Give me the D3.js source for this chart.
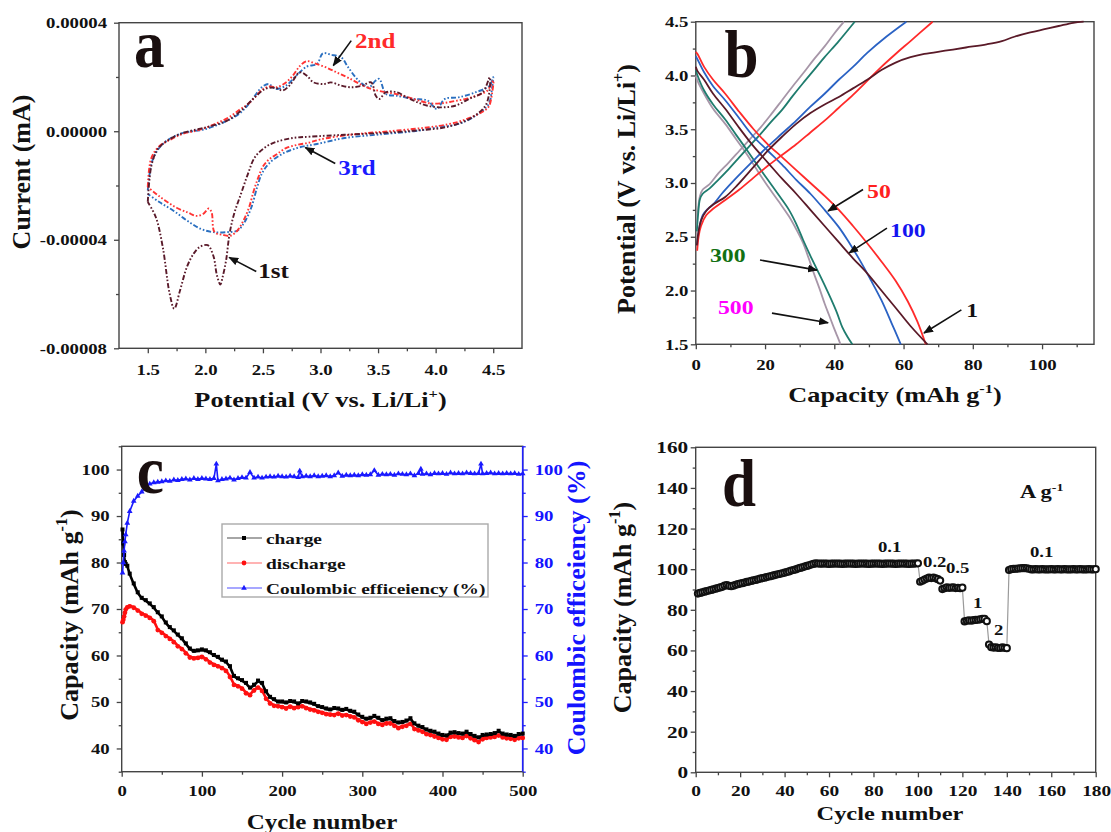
<!DOCTYPE html>
<html>
<head>
<meta charset="utf-8">
<script src="https://cdn.jsdelivr.net/npm/d3@7/dist/d3.min.js"></script>
<style>
  body { margin: 0; background: #fff; }
  svg { display: block; }
  text { font-family: "Liberation Serif", "Times New Roman", serif; font-weight: bold; }
</style>
</head>
<body>
<svg id="fig" width="1111" height="832"></svg>
<script>
// ---- panel a: cyclic voltammetry, [potential V, current in 1e-5 mA] ----
const cvFirst = [[1.5,-2.6],[1.53,-1.3],[1.58,-0.7],[1.63,-0.47],[1.78,-0.1],[2.01,0.15],[2.19,0.39],[2.31,0.76],
  [2.43,1.25],[2.52,1.56],[2.61,1.6],[2.67,1.5],[2.73,1.68],[2.82,2.17],[2.88,2.05],[2.94,1.8],[3.03,1.74],[3.09,1.8],
  [3.18,1.68],[3.27,1.62],[3.36,1.68],[3.44,1.8],[3.48,1.31],[3.51,1.19],[3.57,1.44],[3.66,1.44],[3.75,1.25],[3.84,1.07],
  [3.93,0.94],[4.05,0.88],[4.17,0.94],[4.29,1.19],[4.41,1.44],[4.47,1.99],
  [4.44,1.0],[4.32,0.52],[4.11,0.17],[3.81,0.02],[3.51,-0.07],[3.21,-0.13],[2.91,-0.2],[2.76,-0.25],[2.61,-0.4],
  [2.52,-0.59],[2.43,-0.96],[2.37,-1.57],[2.31,-2.3],[2.25,-3.04],[2.21,-3.78],[2.18,-4.76],[2.15,-5.37],[2.13,-5.65],
  [2.1,-5.3],[2.07,-4.6],[2.02,-4.2],[1.95,-4.27],[1.9,-4.5],[1.84,-5.0],[1.78,-5.87],[1.73,-6.54],[1.69,-5.99],
  [1.63,-4.27],[1.57,-3.17],[1.5,-2.61]];
const cvSecond = [[1.5,-2.06],[1.53,-1.0],[1.6,-0.55],[1.7,-0.3],[1.8,-0.1],[1.9,0.0],[2.0,0.12],[2.1,0.3],[2.2,0.5],
  [2.3,0.8],[2.37,1.0],[2.43,1.25],[2.5,1.55],[2.56,1.65],[2.62,1.62],[2.7,1.8],[2.76,2.05],[2.82,2.4],[2.88,2.58],
  [2.95,2.5],[3.05,2.35],[3.15,2.15],[3.25,1.95],[3.36,1.7],[3.45,1.55],[3.55,1.45],[3.66,1.37],[3.8,1.2],[3.95,1.03],
  [4.05,1.03],[4.15,1.1],[4.27,1.2],[4.38,1.35],[4.45,1.5],[4.5,1.87],
  [4.49,1.4],[4.46,0.9],[4.4,0.7],[4.3,0.5],[4.2,0.35],[4.1,0.25],[3.95,0.15],[3.8,0.08],[3.6,0.0],[3.4,-0.07],
  [3.2,-0.16],[3.0,-0.3],[2.9,-0.42],[2.8,-0.5],[2.7,-0.62],[2.62,-0.85],[2.55,-1.05],[2.5,-1.3],[2.46,-1.7],
  [2.42,-2.2],[2.38,-2.8],[2.33,-3.3],[2.28,-3.65],[2.22,-3.85],[2.15,-3.82],[2.08,-3.72],[2.055,-3.0],[2.03,-2.85],
  [1.98,-3.05],[1.92,-3.12],[1.85,-3.0],[1.75,-2.82],[1.65,-2.55],[1.57,-2.3],[1.5,-2.06]];
const cvThird = [[1.5,-2.18],[1.54,-1.08],[1.63,-0.47],[1.78,-0.1],[2.01,0.09],[2.19,0.39],[2.31,0.7],[2.4,1.13],
  [2.49,1.62],[2.55,1.74],[2.61,1.56],[2.7,1.68],[2.79,2.05],[2.88,2.38],[2.97,2.48],[3.02,2.87],[3.09,2.82],[3.18,2.72],
  [3.24,2.36],[3.33,1.87],[3.42,1.62],[3.48,1.87],[3.51,1.93],[3.57,1.37],[3.66,1.31],[3.81,1.19],[3.93,1.13],[4.01,0.82],
  [4.08,1.19],[4.2,1.25],[4.35,1.44],[4.47,1.68],[4.5,1.99],
  [4.49,1.6],[4.46,1.0],[4.35,0.58],[4.2,0.27],[3.99,0.12],[3.81,0.0],[3.51,-0.12],[3.21,-0.25],[2.97,-0.47],[2.82,-0.59],
  [2.67,-0.83],[2.55,-1.2],[2.49,-1.57],[2.45,-2.06],[2.4,-2.8],[2.34,-3.35],[2.28,-3.66],[2.19,-3.72],[2.07,-3.72],
  [1.96,-3.6],[1.84,-3.29],[1.72,-2.92],[1.6,-2.61],[1.5,-2.31]];
const cvXTicks = [1.5, 2.0, 2.5, 3.0, 3.5, 4.0, 4.5];
const cvXMinor = [1.75, 2.25, 2.75, 3.25, 3.75, 4.25];
const cvYTicks = [-8, -4, 0, 4];
const cvYMinor = [-6, -2, 2];

// ---- panel b: charge / discharge profiles, [capacity mAh/g, potential V] ----
const gcCharge1 = [[0.3,2.42],[0.8,2.55],[1.5,2.65],[3,2.74],[5,2.8],[8.5,2.87],[12,2.98],[16.7,3.15],[20.8,3.3],
  [24.9,3.43],[29,3.55],[33.1,3.65],[37.2,3.73],[41.3,3.8],[45.4,3.88],[49.5,3.96],[53.6,4.05],[57.7,4.12],[62,4.17],
  [66,4.2],[72,4.23],[78,4.26],[84,4.29],[88.4,4.32],[92,4.36],[96.6,4.4],[100.7,4.43],[104.8,4.46],[109,4.49],[112,4.5]];
const gcDischarge1 = [[0,4.08],[0.5,4.04],[2.4,3.96],[5,3.83],[8.5,3.69],[12.6,3.51],[16.7,3.34],[20.8,3.19],[24.9,3.04],
  [29,2.9],[33.1,2.75],[37.2,2.6],[41.3,2.45],[45.4,2.3],[49.5,2.16],[53.6,2.0],[57.7,1.84],[62,1.67],[66.9,1.5]];
const gcCharge50 = [[0.4,2.37],[0.8,2.5],[1.5,2.6],[3,2.7],[5,2.76],[8,2.83],[12.6,2.94],[16.7,3.05],[20.8,3.16],
  [24.9,3.26],[29,3.36],[33.1,3.47],[37.2,3.58],[41.3,3.7],[45.4,3.82],[49.5,3.95],[53.6,4.08],[57.7,4.2],[62,4.32],[68.4,4.5]];
const gcDischarge50 = [[0,4.22],[0.5,4.2],[2.4,4.08],[5,3.96],[8.5,3.83],[12.6,3.66],[16.7,3.5],[20.8,3.36],[24.9,3.24],
  [29,3.12],[33.1,3.0],[37.2,2.88],[41.3,2.75],[45.4,2.6],[49.5,2.44],[53.6,2.27],[57.7,2.09],[61.2,1.9],[64,1.71],[66.4,1.5]];
const gcCharge100 = [[0.4,2.42],[1,2.58],[2,2.7],[3.5,2.76],[5,2.8],[7.5,2.9],[10.6,3.01],[13.6,3.11],[16.7,3.21],
  [20.8,3.34],[24.9,3.46],[29,3.58],[33.1,3.71],[37.2,3.83],[41.3,3.96],[45.4,4.08],[49.5,4.21],[55,4.36],[60.8,4.5]];
const gcDischarge100 = [[0,4.18],[0.5,4.15],[2.4,4.03],[5,3.9],[8.5,3.77],[12.6,3.6],[16.7,3.43],[20.8,3.3],[24.9,3.17],
  [29,3.03],[33.1,2.9],[37.2,2.75],[41.3,2.59],[44.4,2.44],[47.4,2.28],[50.5,2.1],[53.6,1.91],[56.5,1.7],[59.2,1.5]];
const gcCharge300 = [[0.3,2.55],[0.7,2.72],[1.2,2.85],[2,2.9],[4,2.95],[6.5,3.03],[9.5,3.13],[12.6,3.24],[15.7,3.35],
  [18.8,3.46],[21.8,3.57],[24.9,3.68],[28,3.81],[31,3.93],[34.1,4.05],[37.2,4.17],[41.3,4.32],[45.9,4.5]];
const gcDischarge300 = [[0,4.05],[0.5,4.0],[2.4,3.86],[5,3.73],[8.5,3.59],[11.6,3.45],[14.7,3.31],[17.7,3.17],[20.8,3.03],
  [23.9,2.89],[26.9,2.75],[29,2.62],[31,2.47],[33,2.33],[35.1,2.19],[37.2,2.05],[39.2,1.91],[40.8,1.79],[42.3,1.66],
  [43.8,1.57],[45.2,1.5]];
const gcCharge500 = [[0.3,2.6],[0.7,2.77],[1.2,2.88],[2,2.94],[4,2.99],[6.5,3.09],[9.5,3.19],[12.6,3.3],[15.7,3.41],
  [18.8,3.52],[21.8,3.64],[24.9,3.77],[28,3.9],[31,4.02],[34.1,4.15],[37.2,4.27],[40,4.39],[42.8,4.5]];
const gcDischarge500 = [[0,4.0],[0.5,3.95],[2.4,3.83],[5,3.69],[8.5,3.55],[11.6,3.41],[14.7,3.27],[17.7,3.12],[20.8,2.97],
  [23.9,2.83],[26.9,2.69],[29,2.57],[31,2.44],[32.6,2.3],[34.1,2.16],[35.7,2.02],[37.2,1.88],[38.5,1.77],[39.8,1.66],
  [40.8,1.58],[41.8,1.5]];
const gcXTicks = [0, 20, 40, 60, 80, 100];
const gcXMinor = [10, 30, 50, 70, 90, 110];
const gcYTicks = [1.5, 2.0, 2.5, 3.0, 3.5, 4.0, 4.5];
const gcYMinor = [1.75, 2.25, 2.75, 3.25, 3.75, 4.25];

// ---- panel c: long cycling ----
const cycCycles = [1,2,3,4,5,7,10,15,20,25,30,35,40,45,50,55,60,65,70,75,80,85,90,95,100,105,110,115,120,125,130,135,140,
  145,150,155,160,165,170,175,180,185,190,195,200,205,210,215,220,225,230,235,240,245,250,255,260,265,270,275,280,285,290,
  295,300,305,310,315,320,325,330,335,340,345,350,355,360,365,370,375,380,385,390,395,400,405,410,415,420,425,430,435,440,
  445,450,455,460,465,470,475,480,485,490,495,500];
const cycCharge = [87,84,81.5,80,79.6,79.2,77.5,75.4,73.5,72.3,71.8,71.1,70.3,69.2,68.3,67,66,65.3,64.4,63.6,62.5,61.4,60.9,
  61,61.2,61,60.6,60,59.6,59,58.6,57.6,55.5,55,54.6,54,53,53.6,54.5,54,52.2,51,50.5,50,50,49.8,50.1,50,49.6,50.1,50,49.8,
  49.5,49,48.8,48.5,48.3,48.6,48.5,48.2,48.4,48,47.8,47.2,46.7,46.3,46.5,46.9,46.5,46,46.3,46.4,45.8,45.5,45.6,45.9,46.4,
  45.3,44.8,44.5,44,43.7,43.5,43.1,42.8,42.7,43.3,43.4,43.2,43.1,43.5,43,42.6,42.3,42.8,42.9,43,43.2,43.7,43.1,42.9,42.8,
  42.6,43,43.1];
const cycDischarge = [67.3,67.8,68.5,69.3,70,70.5,70.7,70.4,69.8,69.1,68.7,68.2,67.5,65.6,65,64.3,63.7,63,62.1,61.5,60.6,
  59.7,59.5,59.6,59.8,59.3,58.6,58.1,57.8,57.4,56.8,55.5,53.8,53.5,53,52,51.6,52.6,53.2,52.5,50.8,49.8,49.3,49.2,49,48.7,
  49.1,48.8,49,49.2,48.8,48.5,48.3,48,47.8,47.5,47.4,47.3,47.6,47.2,47.3,47,46.8,46.2,45.8,45.4,45.7,45.9,45.4,45.2,45.5,
  45.5,45,44.5,44.8,45,45.4,44.3,44,43.7,43.2,43,42.7,42.4,42.1,42,42.6,42.7,42.5,42.4,42.8,42.3,41.9,41.5,42.1,42.4,42.5,
  42.6,42.9,42.5,42.3,42.2,42,42.3,42.4];
const ceCycles = [1,2,3,4,5,7,10,15,20,25,30,35,40,45,50,55,60,65,70,75,80,85,90,95,100,105,110,115,118,120,125,130,135,
  140,145,150,155,160,165,170,175,180,185,190,195,200,205,210,215,220,222,225,230,235,240,245,250,255,260,265,270,275,280,
  285,290,295,300,305,310,315,320,325,330,335,340,345,350,355,360,365,370,373,375,380,385,390,395,400,405,410,415,420,425,
  430,435,440,445,448,450,455,460,465,470,475,480,485,490,495,500];
const ceValues = [77.8,80,82.5,84.5,86,88.5,91,93.2,94.3,95.2,96.3,96.9,97.2,97.3,97.4,97.6,97.5,97.8,97.7,97.9,98,97.8,
  98.1,97.9,98.1,98,97.9,98.1,101.2,97.6,97.9,98,98.2,97.8,98.1,98.3,98.2,99.4,98.2,98.4,98.2,98.4,98.5,98.4,98.6,98.5,
  98.4,98.6,98.5,98.3,99.7,98.5,98.6,98.5,98.7,98.5,98.6,98.7,98.5,98.7,99.3,98.6,98.8,98.7,98.8,98.7,98.9,98.8,98.9,99.8,
  98.8,99,98.9,99,98.8,99.1,99,98.9,99.1,98.7,99.2,100.1,99,99.1,98.9,99.2,99.1,99.2,99,99.3,99.1,99.2,99.1,99.3,99.2,
  99.1,99.2,101.2,99.1,99.2,99.3,99.1,99.2,99.1,99.2,99.1,99.2,99,99.1];
const cycXTicks = [0, 100, 200, 300, 400, 500];
const cycXMinor = [50, 150, 250, 350, 450];
const cycYTicks = [40, 50, 60, 70, 80, 90, 100];
const cycYMinor = [35, 45, 55, 65, 75, 85, 95, 105];

// ---- panel d: rate capability, capacity of cycles 1..180 ----
const rateValues = [
  88.0,88.3,88.6,88.9,89.2,89.5,89.8,90.1,90.4,90.7,91.0,91.3,91.9,92.1,91.8,91.6,91.9,
  92.3,92.6,92.9,93.1,93.4,93.7,93.9,94.2,94.5,94.7,95.0,95.3,95.6,95.8,96.1,96.4,96.6,96.9,97.2,97.5,97.7,98.0,98.3,
  98.6,98.9,99.3,99.6,99.9,100.3,100.6,100.9,101.3,101.6,101.9,102.3,102.6,102.9,
  102.8,102.7,102.7,102.8,102.7,102.6,102.7,102.7,102.8,102.7,102.7,102.6,102.7,102.7,102.8,102.7,102.7,102.6,102.7,102.7,
  102.8,102.7,102.7,102.6,102.7,102.7,102.8,102.7,102.7,102.6,102.7,102.7,102.8,102.7,102.7,102.6,102.7,102.7,102.8,102.7,
  102.7,102.6,102.7,102.7,102.8,102.9,
  93.8,94.3,94.9,95.4,95.8,95.6,95.9,95.5,95.1,94.4,
  90.2,90.6,91.0,90.8,90.9,91.0,90.7,90.8,90.6,90.9,
  74.3,74.6,74.8,74.6,74.9,75.0,75.1,75.3,75.6,75.5,74.4,
  62.9,61.6,61.4,61.5,61.3,61.2,61.5,61.3,61.1,
  99.6,100.0,100.1,100.2,100.3,100.4,100.5,100.5,100.4,100.2,
  99.9,99.9,100.0,99.9,99.9,100.0,99.9,99.9,99.9,100.0,99.9,99.9,100.0,99.9,99.9,100.0,99.9,99.9,99.9,100.0,
  99.9,99.9,100.0,99.9,99.9,99.9,100.0,99.9,99.9,100.0];
const rateXTicks = [0, 20, 40, 60, 80, 100, 120, 140, 160, 180];
const rateXMinor = [10, 30, 50, 70, 90, 110, 130, 150, 170];
const rateYTicks = [0, 20, 40, 60, 80, 100, 120, 140, 160];
const rateYMinor = [10, 30, 50, 70, 90, 110, 130, 150];

// ---------------------------------------------------------------
const SX = 1.25;              // horizontal stretch of the original lettering
const AXIS = '#444';
const svg = d3.select('#fig');

svg.append('defs').append('marker')
  .attr('id', 'head').attr('viewBox', '0 0 10 8').attr('refX', 9).attr('refY', 4)
  .attr('markerWidth', 10).attr('markerHeight', 8).attr('markerUnits', 'userSpaceOnUse')
  .attr('orient', 'auto')
  .append('path').attr('d', 'M0,0 L10,4 L0,8 Z').attr('fill', '#111');

function hText(x, y, size, color, anchor) {
  return svg.append('text')
    .attr('transform', 'translate(' + x + ',' + y + ') scale(' + SX + ',1)')
    .attr('font-size', size).attr('fill', color || '#111')
    .attr('text-anchor', anchor || 'start');
}
function vText(x, y, size, color) {
  return svg.append('text')
    .attr('transform', 'translate(' + x + ',' + y + ') rotate(-90)')
    .attr('font-size', size).attr('fill', color || '#111')
    .attr('text-anchor', 'middle');
}
function withSup(t, base, sup, after, size) {
  t.append('tspan').text(base);
  t.append('tspan').attr('font-size', size * 0.62).attr('dy', -size * 0.42).text(sup);
  t.append('tspan').attr('dy', size * 0.42).text(after);
  return t;
}
function bigLetter(x, y, ch) {
  svg.append('text')
    .attr('transform', 'translate(' + x + ',' + y + ') scale(0.9,1)')
    .attr('font-size', 68).attr('fill', '#1a0f0f').text(ch);
}
function frame(x, y, col) {
  const [L, R] = x.range(), [B, T] = y.range();
  svg.append('rect').attr('x', L).attr('y', T).attr('width', R - L).attr('height', B - T)
    .attr('fill', 'none').attr('stroke', col || AXIS).attr('stroke-width', 1.4);
}
function axis(scale, side, at, majors, minors, fmt, o) {
  const make = side === 'left' ? d3.axisLeft : side === 'right' ? d3.axisRight : d3.axisBottom;
  const tr = side === 'bottom' ? 'translate(0,' + at + ')' : 'translate(' + at + ',0)';
  const col = o.color || AXIS;
  const ga = svg.append('g').attr('transform', tr)
    .call(make(scale).tickValues(majors).tickSize(5).tickFormat(fmt));
  const gm = svg.append('g').attr('transform', tr)
    .call(make(scale).tickValues(minors).tickSize(3).tickFormat(''));
  [ga, gm].forEach(a => {
    a.select('.domain').remove();
    a.selectAll('line').attr('stroke', col).attr('stroke-width', 1.3);
  });
  gm.selectAll('text').remove();
  const tx = ga.selectAll('text')
    .attr('font-size', o.size).attr('font-weight', 'bold')
    .attr('font-family', '"Liberation Serif", "Times New Roman", serif')
    .attr('fill', o.textColor || '#111')
    .attr('transform', 'scale(' + SX + ',1)');
  if (side === 'bottom') tx.attr('y', o.gap).attr('dy', 0);
  else tx.attr('x', (side === 'left' ? -1 : 1) * o.gap / SX);
  return tx;
}
function arrow(x, y, from, to) {
  svg.append('line')
    .attr('x1', x(from[0])).attr('y1', y(from[1]))
    .attr('x2', x(to[0])).attr('y2', y(to[1]))
    .attr('stroke', '#111').attr('stroke-width', 1.6).attr('marker-end', 'url(#head)');
}

// ================= panel a =================
{
  const x = d3.scaleLinear().domain([1.25, 4.75]).range([119, 522]);
  const y = d3.scaleLinear().domain([-8, 4]).range([348.3, 22.7]);
  frame(x, y);
  axis(y, 'left', 119, cvYTicks, cvYMinor, d => (d * 1e-5).toFixed(5), { size: 15, gap: 12 });
  axis(x, 'bottom', 348.3, cvXTicks, cvXMinor, d3.format('.1f'), { size: 15, gap: 26.5 });

  const line = d3.line().x(d => x(d[0])).y(d => y(d[1])).curve(d3.curveCatmullRom.alpha(0.5));
  [[cvThird, '#2a6fc0'], [cvSecond, '#ff3333'], [cvFirst, '#5a1a2a']].forEach(([data, col]) => {
    svg.append('path').datum(data).attr('d', line)
      .attr('fill', 'none').attr('stroke', col).attr('stroke-width', 1.9)
      .attr('stroke-dasharray', '5,2,1.6,2,1.6,2');
  });

  const notes = [
    { t: '2nd', col: '#ff2a2a', at: [3.30, 3.08], from: [3.267, 3.34], to: [3.111, 2.42] },
    { t: '3rd', col: '#1a1aff', at: [3.154, -1.63], from: [3.128, -1.19], to: [2.868, -0.60] },
    { t: '1st', col: '#1a1010', at: [2.459, -5.42], from: [2.442, -5.17], to: [2.207, -4.65] }
  ];
  notes.forEach(n => {
    arrow(x, y, n.from, n.to);
    hText(x(n.at[0]), y(n.at[1]), 20, n.col).text(n.t);
  });

  bigLetter(134, 67, 'a');
  vText(30, 172, 26).text('Current (mA)');
  withSup(hText(320.5, 407, 21, '#111', 'middle'), 'Potential (V vs. Li/Li', '+', ')', 21);
}

// ================= panel b =================
{
  const x = d3.scaleLinear().domain([0, 115]).range([695.8, 1094]);
  const y = d3.scaleLinear().domain([1.5, 4.5]).range([344.3, 21.7]);
  frame(x, y);
  axis(y, 'left', 695.8, gcYTicks, gcYMinor, d3.format('.1f'), { size: 15, gap: 7.5 });
  axis(x, 'bottom', 344.3, gcXTicks, gcXMinor, d3.format('d'), { size: 15, gap: 26 });

  const line = d3.line().x(d => x(d[0])).y(d => y(d[1])).curve(d3.curveCatmullRom.alpha(0.5));
  const curves = [
    [gcCharge500, '#a796a8'], [gcDischarge500, '#a796a8'],
    [gcCharge300, '#1f7c6e'], [gcDischarge300, '#1f7c6e'],
    [gcCharge100, '#2a62c4'], [gcDischarge100, '#2a62c4'],
    [gcCharge50, '#ff2a2a'], [gcDischarge50, '#ff2a2a'],
    [gcCharge1, '#5a1a28'], [gcDischarge1, '#5a1a28']
  ];
  curves.forEach(([data, col]) => {
    svg.append('path').datum(data).attr('d', line)
      .attr('fill', 'none').attr('stroke', col).attr('stroke-width', 1.8);
  });

  const notes = [
    { t: '50', col: '#ff2020', at: [49.45, 2.858], from: [48.3, 2.94], to: [38.2, 2.74] },
    { t: '100', col: '#1414f0', at: [56.1, 2.497], from: [55.2, 2.58], to: [44.3, 2.35] },
    { t: '300', col: '#127012', at: [4.1, 2.265], from: [18.55, 2.284], to: [35.0, 2.19] },
    { t: '500', col: '#ff00ff', at: [6.4, 1.78], from: [22.0, 1.79], to: [38.2, 1.70] },
    { t: '1', col: '#111', at: [78.1, 1.753], from: [76.7, 1.82], to: [65.9, 1.605] }
  ];
  notes.forEach(n => {
    arrow(x, y, n.from, n.to);
    hText(x(n.at[0]), y(n.at[1]), 19, n.col).text(n.t);
  });

  bigLetter(724.5, 77, 'b');
  withSup(vText(635, 189, 26), 'Potential (V vs. Li/Li', '+', ')', 26);
  withSup(hText(895, 402, 21, '#111', 'middle'), 'Capacity (mAh g', '-1', ')', 21);
}

// ================= panel c =================
{
  const x = d3.scaleLinear().domain([0, 500]).range([121.7, 522.7]);
  const y = d3.scaleLinear().domain([35, 105]).range([771.7, 446.3]);
  const y2 = d3.scaleLinear().domain([35, 105]).range([771.7, 446.3]);
  frame(x, y);
  svg.append('line').attr('x1', 522.7).attr('x2', 522.7).attr('y1', 446.3).attr('y2', 771.7)
    .attr('stroke', '#2020ff').attr('stroke-width', 1.6);
  axis(y, 'left', 121.7, cycYTicks, cycYMinor, d3.format('d'), { size: 15, gap: 12 });
  axis(y2, 'right', 522.7, cycYTicks, cycYMinor, d3.format('d'),
    { size: 15, gap: 12, color: '#2020ff', textColor: '#1414ff' });
  axis(x, 'bottom', 771.7, cycXTicks, cycXMinor, d3.format('d'), { size: 15, gap: 24 });

  const dis = cycCycles.map((c, i) => [c, cycDischarge[i]]);
  const chg = cycCycles.map((c, i) => [c, cycCharge[i]]);
  const ce = ceCycles.map((c, i) => [c, ceValues[i]]);
  const line = d3.line().x(d => x(d[0])).y(d => y(d[1]));

  svg.append('path').datum(dis).attr('d', line).attr('fill', 'none')
    .attr('stroke', '#ff1010').attr('stroke-width', 2.6);
  svg.append('g').selectAll('circle').data(dis).join('circle')
    .attr('cx', d => x(d[0])).attr('cy', d => y(d[1]) + 0.6).attr('r', 2.4).attr('fill', '#ff1010');

  svg.append('path').datum(chg).attr('d', line).attr('fill', 'none')
    .attr('stroke', '#000').attr('stroke-width', 2.6);
  svg.append('g').selectAll('rect').data(chg).join('rect')
    .attr('x', d => x(d[0]) - 2).attr('y', d => y(d[1]) - 2.5).attr('width', 4).attr('height', 4).attr('fill', '#000');

  const tri = d3.symbol(d3.symbolTriangle).size(14);
  svg.append('path').datum(ce).attr('d', d3.line().x(d => x(d[0])).y(d => y2(d[1])))
    .attr('fill', 'none').attr('stroke', '#1a1aff').attr('stroke-width', 1.6);
  svg.append('g').selectAll('path').data(ce).join('path')
    .attr('d', tri).attr('transform', d => 'translate(' + x(d[0]) + ',' + y2(d[1]) + ')')
    .attr('fill', '#1a1aff');

  // legend
  svg.append('rect').attr('x', 222).attr('y', 524).attr('width', 266).attr('height', 73)
    .attr('fill', '#fff').attr('stroke', '#aaa').attr('stroke-width', 1.4);
  const leg = [
    { t: 'charge', line: '#888', mark: 'sq', col: '#000', yy: 538 },
    { t: 'discharge', line: '#ff9a9a', mark: 'ci', col: '#ff1010', yy: 563 },
    { t: 'Coulombic efficeiency (%)', line: '#8a8aff', mark: 'tr', col: '#1a1aff', yy: 588 }
  ];
  leg.forEach(l => {
    svg.append('line').attr('x1', 227).attr('x2', 262).attr('y1', l.yy).attr('y2', l.yy)
      .attr('stroke', l.line).attr('stroke-width', 1.3);
    if (l.mark === 'sq') svg.append('rect').attr('x', 242).attr('y', l.yy - 2).attr('width', 4).attr('height', 4).attr('fill', l.col);
    if (l.mark === 'ci') svg.append('circle').attr('cx', 244).attr('cy', l.yy).attr('r', 2.4).attr('fill', l.col);
    if (l.mark === 'tr') svg.append('path').attr('d', tri).attr('transform', 'translate(244,' + l.yy + ')').attr('fill', l.col);
    hText(266, l.yy + 5.5, 15.5).text(l.t);
  });

  bigLetter(136.7, 493, 'c');
  withSup(vText(78, 615, 26), 'Capacity (mAh g', '-1', ')', 26);
  vText(585, 608, 26, '#1414ff').text('Coulombic efficeiency (%)');
  hText(322, 829, 20, '#111', 'middle').text('Cycle number');
}

// ================= panel d =================
{
  const x = d3.scaleLinear().domain([0, 180]).range([695.7, 1095.7]);
  const y = d3.scaleLinear().domain([0, 160]).range([772.3, 447.3]);
  frame(x, y);
  axis(y, 'left', 695.7, rateYTicks, rateYMinor, d3.format('d'), { size: 17, gap: 7.5 });
  const xt = axis(x, 'bottom', 772.3, rateXTicks, rateXMinor, d3.format('d'), { size: 15.5, gap: 23.5 });
  // the last label sits at the picture edge: keep it inside
  xt.filter(d => d === 180).attr('text-anchor', 'end').attr('x', 12);

  const pts = rateValues.map((v, i) => [i + 1, v]);
  svg.append('path').datum(pts).attr('d', d3.line().x(d => x(d[0])).y(d => y(d[1])))
    .attr('fill', 'none').attr('stroke', '#9a9a9a').attr('stroke-width', 1.2);
  svg.append('g').selectAll('circle').data(pts).join('circle')
    .attr('cx', d => x(d[0])).attr('cy', d => y(d[1])).attr('r', 3.1)
    .attr('fill', '#fff').attr('stroke', '#111').attr('stroke-width', 2);

  const rates = [
    { t: '0.1', at: [82.0, 108.5] }, { t: '0.2', at: [102.3, 101.1] }, { t: '0.5', at: [112.6, 98.1] },
    { t: '1', at: [124.8, 80.9] }, { t: '2', at: [134.2, 67.6] }, { t: '0.1', at: [150.4, 106.1] }
  ];
  rates.forEach(r => hText(x(r.at[0]), y(r.at[1]), 15).text(r.t));
  withSup(hText(x(145.9), y(135.0), 18), 'A g', '-1', '', 18);

  bigLetter(722, 506, 'd');
  withSup(vText(631, 607.5, 26), 'Capacity (mAh g', '-1', ')', 26);
  hText(890, 820, 19.5, '#111', 'middle').text('Cycle number');
}
</script>
